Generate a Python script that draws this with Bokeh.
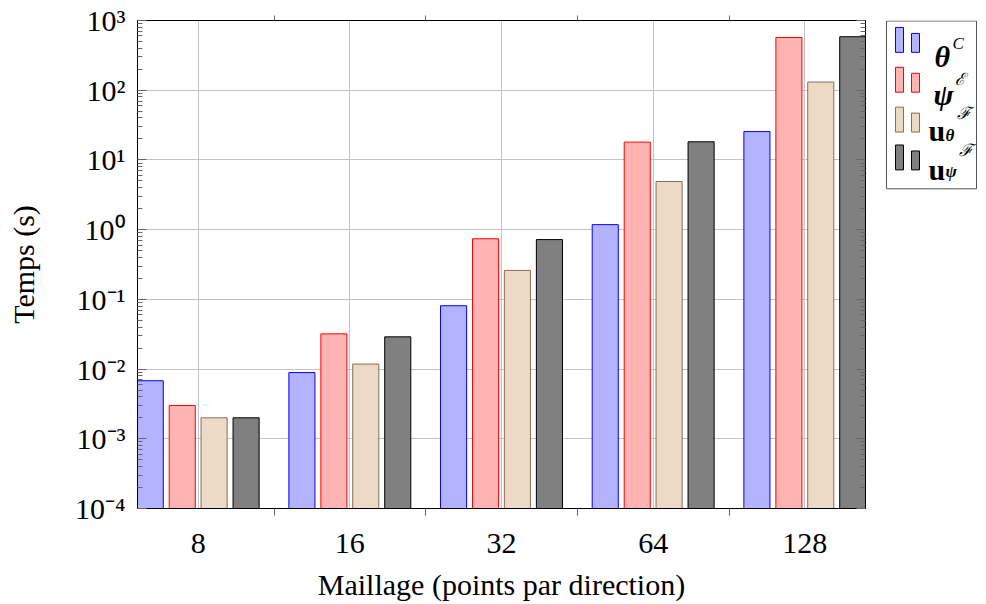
from bokeh.plotting import figure
from bokeh.models import Range1d, FixedTicker, LinearAxis, LogAxis, ColumnDataSource
from bokeh.transform import dodge
from bokeh.layouts import row
from bokeh.embed import file_html
from bokeh.resources import INLINE
from bokeh.core.properties import value

# ---------------- data ----------------
categories = ["8", "16", "32", "64", "128"]
theta_c = [0.0068, 0.0089, 0.081, 1.18, 25.5]
psi_e = [0.003, 0.032, 0.74, 18.0, 570.0]
u_theta_f = [0.002, 0.0118, 0.26, 4.9, 131.0]
u_psi_f = [0.002, 0.029, 0.72, 18.2, 585.0]
y_ticks = [1e-4, 1e-3, 1e-2, 1e-1, 1e0, 1e1, 1e2, 1e3]
y_tick_labels = ["10⁻⁴", "10⁻³", "10⁻²", "10⁻¹", "10⁰", "10¹", "10²", "10³"]
x_label = "Maillage (points par direction)"
y_label = "Temps (s)"

FONT = "Liberation Serif"
series = [
    ("theta_c", -0.316, "#b3b3ff", "#0000ff"),
    ("psi_e", -0.105, "#ffb3b3", "#ff0000"),
    ("u_theta_f", 0.105, "#ecd9c6", "#8c6e52"),
    ("u_psi_f", 0.316, "#808080", "#000000"),
]

pos = list(range(len(categories)))
source = ColumnDataSource(dict(pos=pos, theta_c=theta_c, psi_e=psi_e,
                               u_theta_f=u_theta_f, u_psi_f=u_psi_f))

FRAME_TOP, FRAME_BOTTOM, H = 20, 510, 603
p = figure(width=874, height=H,
           x_range=Range1d(-0.4, len(categories) - 0.6),
           y_range=Range1d(y_ticks[0], y_ticks[-1]),
           y_axis_type="log", output_backend="svg", toolbar_location=None,
           min_border_left=137, min_border_right=9, min_border_top=FRAME_TOP,
           min_border_bottom=H - FRAME_BOTTOM)
p.background_fill_color = "white"
p.border_fill_color = "white"
p.outline_line_color = "black"
p.outline_line_width = 1

for key, off, fill, line in series:
    p.vbar(x=dodge("pos", off, range=p.x_range), top=key, bottom=y_ticks[0],
           width=0.172, source=source, fill_color=fill, line_color=line,
           line_width=1)

# x axis
x_ticker = FixedTicker(ticks=pos, minor_ticks=[i + 0.5 for i in pos[:-1]])
xa = p.xaxis[0]
xa.ticker = x_ticker
xa.major_label_overrides = {i: c for i, c in zip(pos, categories)}
xa.major_tick_in = 0
xa.major_tick_out = 0
xa.minor_tick_in = 0
xa.minor_tick_out = 7
xa.minor_tick_line_color = "#666666"
xa.axis_line_color = "black"
xa.major_label_text_font = FONT
xa.major_label_text_font_size = "30px"
xa.major_label_text_color = "black"
xa.major_label_standoff = 18
xa.axis_label = x_label
xa.axis_label_text_font = FONT
xa.axis_label_text_font_size = "30px"
xa.axis_label_text_font_style = "normal"
xa.axis_label_text_color = "black"
xa.axis_label_standoff = 12

# y axis
minor_y = [m * t for t in y_ticks[:-1] for m in range(2, 10)]
y_ticker = FixedTicker(ticks=y_ticks, minor_ticks=minor_y)
ya = p.yaxis[0]
ya.ticker = y_ticker
ya.major_label_overrides = {t: l for t, l in zip(y_ticks, y_tick_labels)}
ya.major_tick_in = 9
ya.major_tick_out = 0
ya.minor_tick_in = 5
ya.minor_tick_out = 0
ya.major_tick_line_color = "#666666"
ya.minor_tick_line_color = "#666666"
ya.axis_line_color = "black"
ya.major_label_text_font = FONT
ya.major_label_text_font_size = "30px"
ya.major_label_text_color = "black"
ya.major_label_standoff = 12
ya.axis_label = y_label
ya.axis_label_text_font = FONT
ya.axis_label_text_font_size = "30px"
ya.axis_label_text_font_style = "normal"
ya.axis_label_text_color = "black"
ya.axis_label_standoff = 32

# mirror axes
top = LinearAxis(ticker=x_ticker, major_label_text_font_size="0px",
                 major_tick_in=0, major_tick_out=0, minor_tick_in=0,
                 minor_tick_out=5, minor_tick_line_color="#666666",
                 major_label_standoff=0, axis_line_color="black")
top.major_label_overrides = {i: "" for i in pos}
p.add_layout(top, "above")
right = LogAxis(ticker=y_ticker, major_label_text_font_size="0px",
                major_tick_in=9, major_tick_out=0, minor_tick_in=5,
                minor_tick_out=0, major_tick_line_color="#666666",
                minor_tick_line_color="#666666", major_label_standoff=0,
                axis_line_color="black")
right.major_label_overrides = {t: "" for t in y_ticks}
p.add_layout(right, "right")

p.xgrid.grid_line_color = "#c4c4c4"
p.ygrid.grid_line_color = "#c4c4c4"
p.xgrid.grid_line_width = 1
p.ygrid.grid_line_width = 1

# ---------------- legend (drawn as its own small panel) ----------------
# the row layout aligns this panel's frame with the main frame (y 20..510),
# so its y range is set in page pixels over that span
leg = figure(width=104, height=H, x_range=Range1d(0, 104),
             y_range=Range1d(FRAME_BOTTOM, FRAME_TOP), output_backend="svg",
             x_axis_type=None, y_axis_type=None,
             toolbar_location=None, min_border=0, min_border_left=0,
             min_border_right=0, min_border_top=FRAME_TOP,
             min_border_bottom=H - FRAME_BOTTOM)
leg.grid.visible = False
leg.outline_line_color = None
leg.background_fill_color = "white"
leg.border_fill_color = "white"

leg.quad(left=[12], right=[102], top=[20.5], bottom=[189], fill_color="white",
         line_color="#555555", line_width=1)
bases = [52, 92, 132, 170]
for (key, off, fill, line), b in zip(series, bases):
    leg.quad(left=[21, 37], right=[29, 45], top=[b - 25, b - 19],
             bottom=[b, b], fill_color=fill, line_color=line, line_width=1)

# main symbols
leg.text(x=[60, 59], y=[56, 94], text=["θ", "ψ"], text_font=value(FONT),
         text_font_size="30px", text_font_style="bold italic",
         text_color="black", text_baseline="alphabetic")
leg.text(x=[54, 54], y=[130, 170], text=["u", "u"], text_font=value(FONT),
         text_font_size="30px", text_font_style="bold",
         text_color="black", text_baseline="alphabetic")
# subscripts
leg.text(x=[71, 71], y=[135, 172], text=["θ", "ψ"], text_font=value(FONT),
         text_font_size="17px", text_font_style="bold italic",
         text_color="black", text_baseline="alphabetic")
# superscripts
leg.text(x=[78, 80, 82, 84], y=[43, 79, 113, 151],
         text=["C", "ℰ", "ℱ", "ℱ"], text_font=value(FONT),
         text_font_size="17px", text_font_style="italic",
         text_color="black", text_baseline="alphabetic")

layout = row(p, leg)
open("out.html", "w").write(file_html(layout, INLINE))
